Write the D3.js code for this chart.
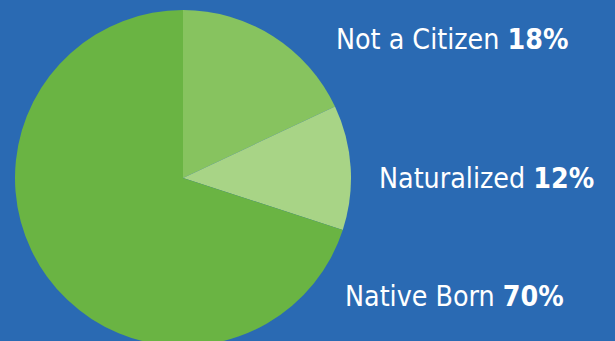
<!DOCTYPE html>
<html>
<head>
<meta charset="utf-8">
<script src="https://cdn.jsdelivr.net/npm/d3@7"></script>
<style>
  html, body { margin: 0; padding: 0; background: #2a6ab3; }
  svg { display: block; }
</style>
</head>
<body>
<svg id="chart" width="615" height="341"></svg>
<script>
// Citizenship status shares (percent)
const categories = ["Not a Citizen", "Naturalized", "Native Born"];
const values = [18, 12, 70];
const colors = ["#87c35f", "#a8d486", "#6ab443"];
// label anchor positions (x = left edge of label, y = baseline)
const labelX = [336, 379, 345];
const labelY = [49, 188, 306];

const svg = d3.select("#chart");
const W = 615, H = 341;
svg.append("rect").attr("width", W).attr("height", H).attr("fill", "#2a6ab3");

const cx = 183, cy = 178, r = 168;

const pie = d3.pie().sort(null).value(d => d);
const arc = d3.arc().innerRadius(0).outerRadius(r);

const g = svg.append("g").attr("transform", `translate(${cx},${cy})`);
g.selectAll("path")
  .data(pie(values))
  .join("path")
  .attr("d", arc)
  .attr("fill", (d, i) => colors[i]);

const font = "'DejaVu Sans Condensed', 'Noto Sans', sans-serif";
const labels = svg.append("g");
categories.forEach((c, i) => {
  const t = labels.append("text")
    .attr("x", labelX[i])
    .attr("y", labelY[i])
    .attr("fill", "#ffffff")
    .style("font-family", font)
    .style("font-size", "28.3px");
  t.append("tspan").text(c + " ");
  t.append("tspan").style("font-weight", "bold").text(values[i] + "%");
});
</script>
</body>
</html>
